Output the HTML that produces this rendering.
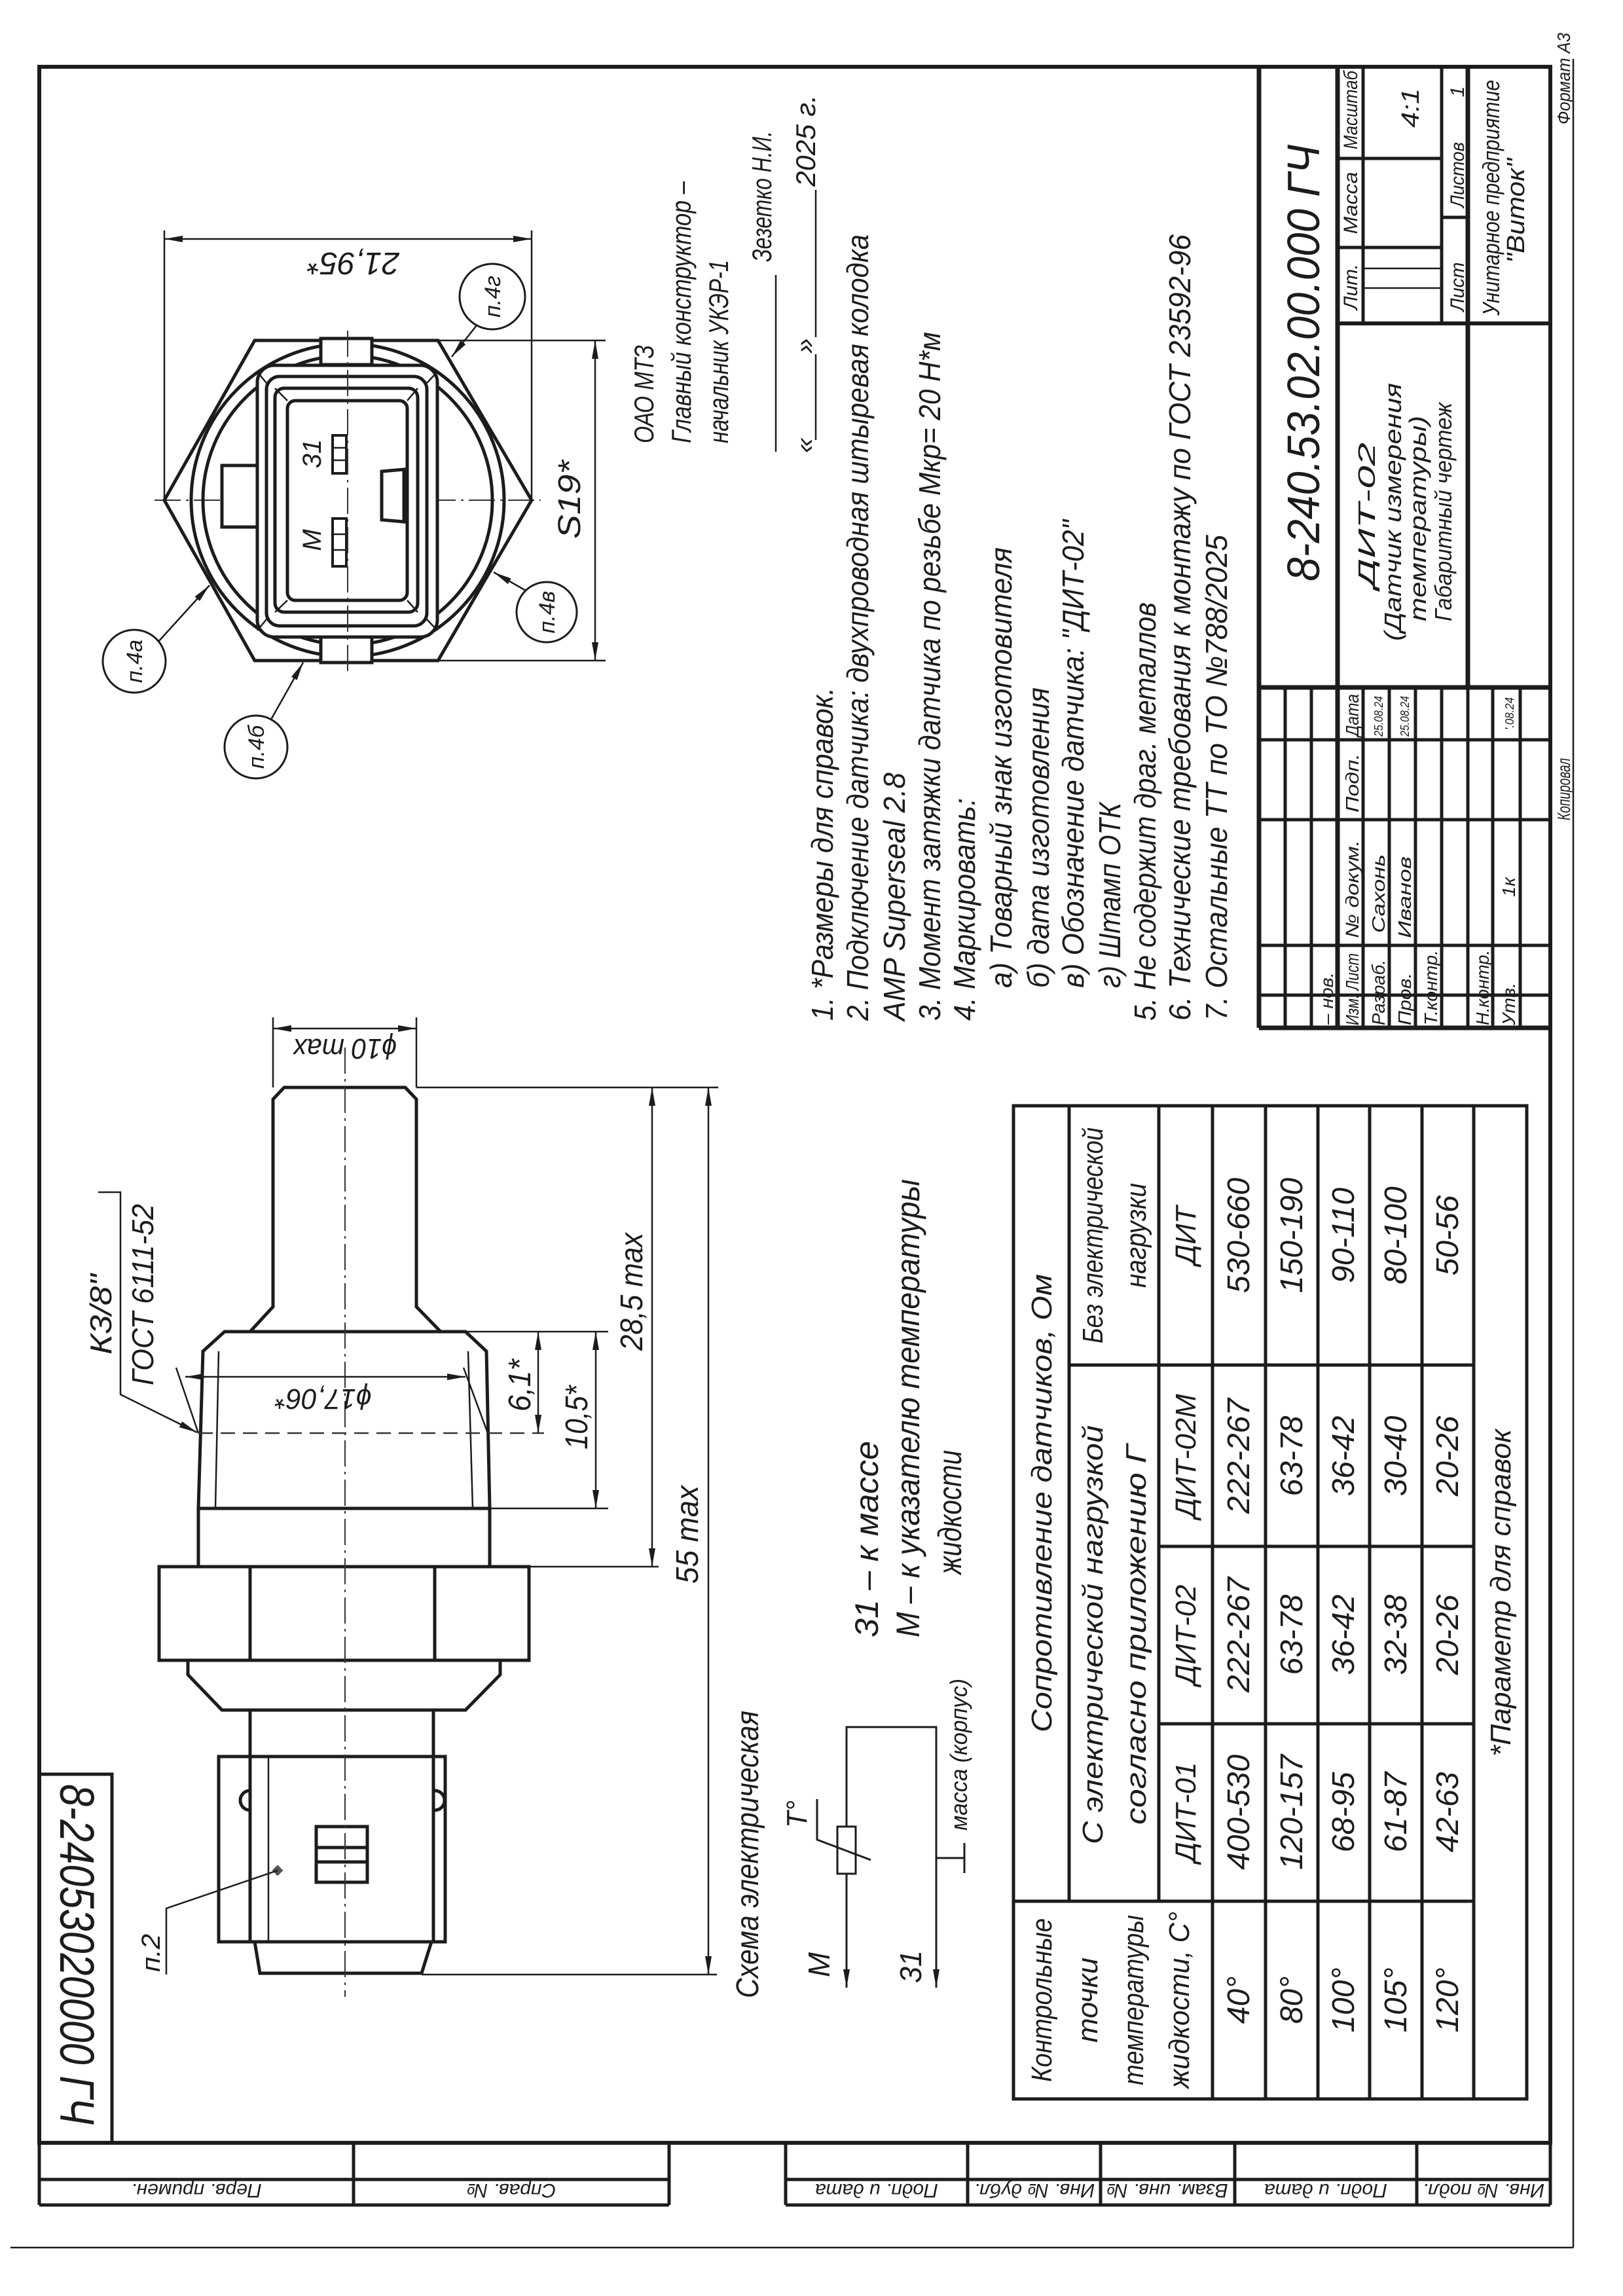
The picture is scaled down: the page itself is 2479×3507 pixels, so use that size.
<!DOCTYPE html>
<html><head><meta charset="utf-8"><style>
html,body{margin:0;padding:0;background:#fff}
svg{display:block}
text{font-family:"Liberation Sans","DejaVu Sans",sans-serif;font-style:italic;fill:#1c1c1c}
.k{stroke:#1c1c1c;fill:none;stroke-width:5}
.n{stroke:#1c1c1c;fill:none;stroke-width:2.5}
.w{stroke:#1c1c1c;fill:#fff;stroke-width:5}
.c{stroke:#333;fill:none;stroke-width:2;stroke-dasharray:40 8 4 8}
.d{stroke:#333;fill:none;stroke-width:2.5;stroke-dasharray:22 12}
</style></head><body>
<svg xmlns="http://www.w3.org/2000/svg" width="2479" height="3507" viewBox="0 0 2479 3507">
<defs>
<marker id="a" viewBox="0 0 28 10" refX="28" refY="5" markerWidth="28" markerHeight="10" markerUnits="userSpaceOnUse" orient="auto-start-reverse"><path d="M0,0 L28,5 L0,10 z" fill="#1c1c1c"/></marker>
</defs>
<rect width="2479" height="3507" fill="#fff"/>

<line class="n" x1="16" y1="3433" x2="2403" y2="3433"/>
<line class="n" x1="2403" y1="90" x2="2403" y2="3433"/>

<rect class="k" x="60" y="102" width="2308" height="3171" style="stroke-width:6"/>
<polyline class="k" points="60,2710 171,2710 171,3273"/>
<text transform="translate(92,2725) rotate(90)" font-size="74" textLength="520" lengthAdjust="spacingAndGlyphs">8-24053020000 ГЧ</text>

<g class="k">
<line x1="60" y1="3273" x2="60" y2="3368"/><line x1="540" y1="3273" x2="540" y2="3368"/><line x1="1022" y1="3273" x2="1022" y2="3368"/>
<line x1="60" y1="3329" x2="1022" y2="3329"/><line x1="60" y1="3368" x2="1022" y2="3368"/>
<line x1="1200" y1="3273" x2="1200" y2="3368"/><line x1="1478" y1="3273" x2="1478" y2="3368"/><line x1="1681" y1="3273" x2="1681" y2="3368"/><line x1="1886" y1="3273" x2="1886" y2="3368"/><line x1="2164" y1="3273" x2="2164" y2="3368"/><line x1="2368" y1="3273" x2="2368" y2="3368"/>
<line x1="1200" y1="3329" x2="2368" y2="3329"/><line x1="1200" y1="3368" x2="2368" y2="3368"/>
</g>
<g font-size="30" text-anchor="middle">
<text transform="translate(300,3336) rotate(180)">Перв. примен.</text>
<text transform="translate(781,3336) rotate(180)">Справ. №</text>
<text transform="translate(1339,3336) rotate(180)">Подп. и дата</text>
<text transform="translate(1580,3336) rotate(180)">Инв. № дубл.</text>
<text transform="translate(1783,3336) rotate(180)">Взам. инв. №</text>
<text transform="translate(2025,3336) rotate(180)">Подп. и дата</text>
<text transform="translate(2266,3336) rotate(180)">Инв. № подл.</text>
</g>

<g class="k">
<line x1="1923" y1="102" x2="1923" y2="1570" style="stroke-width:7"/>
<line x1="2043" y1="102" x2="2043" y2="1050" style="stroke-width:7"/>
<line x1="2242" y1="102" x2="2242" y2="1050" style="stroke-width:7"/>
<line x1="1923" y1="1050" x2="2368" y2="1050" style="stroke-width:7"/>
<line x1="2043" y1="494" x2="2368" y2="494" style="stroke-width:6"/>
<line x1="2082" y1="102" x2="2082" y2="494"/>
<line x1="2202" y1="102" x2="2202" y2="494"/>
<line x1="2043" y1="242" x2="2202" y2="242"/>
<line x1="2043" y1="378" x2="2202" y2="378"/>
<line x1="2202" y1="332" x2="2242" y2="332"/>
<line x1="2082" y1="410" x2="2202" y2="410" class="n"/>
<line x1="2082" y1="440" x2="2202" y2="440" class="n"/>
</g>
<g class="k">
<line x1="1963" y1="1050" x2="1963" y2="1570"/><line x1="2003" y1="1050" x2="2003" y2="1570"/><line x1="2043" y1="1050" x2="2043" y2="1570" style="stroke-width:7"/>
<line x1="2082" y1="1050" x2="2082" y2="1570"/><line x1="2122" y1="1050" x2="2122" y2="1570"/><line x1="2162" y1="1050" x2="2162" y2="1570"/><line x1="2202" y1="1050" x2="2202" y2="1570"/><line x1="2242" y1="1050" x2="2242" y2="1570"/><line x1="2280" y1="1050" x2="2280" y2="1570"/><line x1="2322" y1="1050" x2="2322" y2="1570"/>
<line x1="1923" y1="1130" x2="2368" y2="1130"/><line x1="1923" y1="1252" x2="2368" y2="1252"/><line x1="1923" y1="1444" x2="2368" y2="1444"/><line x1="1923" y1="1520" x2="2368" y2="1520"/>
<line x1="1923" y1="1570" x2="2368" y2="1570" style="stroke-width:7"/>
</g>
<text transform="translate(2015,888) rotate(-90)" font-size="70" textLength="667" lengthAdjust="spacingAndGlyphs">8-240.53.02.00.000 ГЧ</text>
<g text-anchor="middle">
<text transform="translate(2100,787) rotate(-90)" font-size="36" textLength="222" lengthAdjust="spacingAndGlyphs">ДИТ-02</text>
<text transform="translate(2140,782) rotate(-90)" font-size="36" textLength="394" lengthAdjust="spacingAndGlyphs">(Датчик измерения</text>
<text transform="translate(2178,792) rotate(-90)" font-size="36" textLength="314" lengthAdjust="spacingAndGlyphs">температуры)</text>
<text transform="translate(2217,782) rotate(-90)" font-size="36" textLength="334" lengthAdjust="spacingAndGlyphs">Габаритный чертеж</text>
<text transform="translate(2073,438) rotate(-90)" font-size="30" textLength="70" lengthAdjust="spacingAndGlyphs">Лит.</text>
<text transform="translate(2073,310) rotate(-90)" font-size="30" textLength="95" lengthAdjust="spacingAndGlyphs">Масса</text>
<text transform="translate(2073,168) rotate(-90)" font-size="30" textLength="120" lengthAdjust="spacingAndGlyphs">Масштаб</text>
<text transform="translate(2167,165) rotate(-90)" font-size="38" textLength="60" lengthAdjust="spacingAndGlyphs">4:1</text>
<text transform="translate(2236,438) rotate(-90)" font-size="30" textLength="75" lengthAdjust="spacingAndGlyphs">Лист</text>
<text transform="translate(2236,267) rotate(-90)" font-size="30" textLength="100" lengthAdjust="spacingAndGlyphs">Листов</text>
<text transform="translate(2236,140) rotate(-90)" font-size="30">1</text>
<text transform="translate(2290,302) rotate(-90)" font-size="36" textLength="360" lengthAdjust="spacingAndGlyphs">Унитарное предприятие</text>
<text transform="translate(2328,322) rotate(-90)" font-size="38" textLength="160" lengthAdjust="spacingAndGlyphs">"Виток"</text>
</g>
<g font-size="28">
<text transform="translate(2036,1565) rotate(-90)" textLength="80" lengthAdjust="spacingAndGlyphs">– нов.</text>
<text transform="translate(2075,1566) rotate(-90)" textLength="110" lengthAdjust="spacingAndGlyphs">Изм. Лист</text>
<text transform="translate(2075,1433) rotate(-90)" textLength="150" lengthAdjust="spacingAndGlyphs">№ докум.</text>
<text transform="translate(2075,1241) rotate(-90)" textLength="90" lengthAdjust="spacingAndGlyphs">Подп.</text>
<text transform="translate(2075,1125) rotate(-90)" textLength="65" lengthAdjust="spacingAndGlyphs">Дата</text>
<text transform="translate(2115,1566) rotate(-90)" textLength="100" lengthAdjust="spacingAndGlyphs">Разраб.</text>
<text transform="translate(2115,1425) rotate(-90)" textLength="120" lengthAdjust="spacingAndGlyphs">Сахонь</text>
<text transform="translate(2112,1125) rotate(-90)" font-size="18" textLength="62" lengthAdjust="spacingAndGlyphs">25.08.24</text>
<text transform="translate(2155,1566) rotate(-90)" textLength="80" lengthAdjust="spacingAndGlyphs">Пров.</text>
<text transform="translate(2155,1433) rotate(-90)" textLength="125" lengthAdjust="spacingAndGlyphs">Иванов</text>
<text transform="translate(2152,1125) rotate(-90)" font-size="18" textLength="62" lengthAdjust="spacingAndGlyphs">25.08.24</text>
<text transform="translate(2195,1566) rotate(-90)" textLength="115" lengthAdjust="spacingAndGlyphs">Т.контр.</text>
<text transform="translate(2274,1566) rotate(-90)" textLength="115" lengthAdjust="spacingAndGlyphs">Н.контр.</text>
<text transform="translate(2314,1566) rotate(-90)" textLength="65" lengthAdjust="spacingAndGlyphs">Утв.</text>
<text transform="translate(2314,1370) rotate(-90)" textLength="30" lengthAdjust="spacingAndGlyphs">1к</text>
<text transform="translate(2312,1115) rotate(-90)" font-size="18" textLength="50" lengthAdjust="spacingAndGlyphs">'.08.24</text>
<text transform="translate(2398,1253) rotate(-90)" textLength="95" lengthAdjust="spacingAndGlyphs">Копировал</text>
<text transform="translate(2398,190) rotate(-90)" textLength="140" lengthAdjust="spacingAndGlyphs">Формат  А3</text>
</g>

<g font-size="42">
<text transform="translate(998,677) rotate(-90)" textLength="150" lengthAdjust="spacingAndGlyphs">ОАО МТЗ</text>
<text transform="translate(1055,677) rotate(-90)" textLength="400" lengthAdjust="spacingAndGlyphs">Главный конструктор –</text>
<text transform="translate(1112,677) rotate(-90)" textLength="280" lengthAdjust="spacingAndGlyphs">начальник УКЭР-1</text>
<text transform="translate(1178,400) rotate(-90)" textLength="200" lengthAdjust="spacingAndGlyphs">Зезетко Н.И.</text>
<text transform="translate(1243,692) rotate(-90)">«</text>
<text transform="translate(1243,540) rotate(-90)">»</text>
<text transform="translate(1245,285) rotate(-90)" textLength="140" lengthAdjust="spacingAndGlyphs">2025 г.</text>
</g>
<line class="n" x1="1185" y1="420" x2="1185" y2="690"/>
<line class="n" x1="1246" y1="541" x2="1246" y2="672"/>
<line class="n" x1="1246" y1="290" x2="1246" y2="515"/>

<g font-size="46">
<text transform="translate(1272,1559) rotate(-90)" textLength="509" lengthAdjust="spacingAndGlyphs">1. *Размеры для справок.</text>
<text transform="translate(1326,1559) rotate(-90)" textLength="1201" lengthAdjust="spacingAndGlyphs">2. Подключение датчика: двухпроводная штыревая колодка</text>
<text transform="translate(1382,1559) rotate(-90)" textLength="379" lengthAdjust="spacingAndGlyphs">AMP Superseal 2.8</text>
<text transform="translate(1436,1559) rotate(-90)" textLength="1052" lengthAdjust="spacingAndGlyphs">3. Момент затяжки датчика по резьбе Мкр= 20 Н*м</text>
<text transform="translate(1489,1559) rotate(-90)" textLength="340" lengthAdjust="spacingAndGlyphs">4. Маркировать:</text>
<text transform="translate(1545,1509) rotate(-90)" textLength="673" lengthAdjust="spacingAndGlyphs">а) Товарный знак изготовителя</text>
<text transform="translate(1602,1509) rotate(-90)" textLength="459" lengthAdjust="spacingAndGlyphs">б) дата изготовления</text>
<text transform="translate(1655,1509) rotate(-90)" textLength="715" lengthAdjust="spacingAndGlyphs">в) Обозначение датчика: "ДИТ-02"</text>
<text transform="translate(1711,1509) rotate(-90)" textLength="283" lengthAdjust="spacingAndGlyphs">г) Штамп ОТК</text>
<text transform="translate(1765,1559) rotate(-90)" textLength="639" lengthAdjust="spacingAndGlyphs">5. Не содержит драг. металлов</text>
<text transform="translate(1818,1559) rotate(-90)" textLength="1201" lengthAdjust="spacingAndGlyphs">6. Технические требования к монтажу по ГОСТ 23592-96</text>
<text transform="translate(1874,1559) rotate(-90)" textLength="742" lengthAdjust="spacingAndGlyphs">7. Остальные ТТ по ТО №788/2025</text>
</g>

<line class="c" x1="531" y1="505" x2="531" y2="1030"/>
<line class="c" x1="236" y1="764" x2="826" y2="764"/>
<polygon class="k" points="251,764 389,520 669,520 812,764 669,1009 389,1009"/>
<circle class="k" cx="531" cy="764" r="239"/>
<circle class="k" cx="531" cy="764" r="221"/>
<rect class="w" x="490" y="517" width="78" height="40"/>
<rect class="w" x="490" y="973" width="78" height="39"/>
<rect class="w" x="339" y="711" width="60" height="94"/>
<rect class="w" x="393" y="558" width="275" height="415" rx="26"/>
<rect class="k" x="407" y="575" width="245" height="381" rx="20"/>
<rect class="k" x="420" y="593" width="218" height="342" rx="14"/>
<rect class="k" x="439" y="612" width="183" height="305" rx="12"/>
<g class="n"><line x1="420" y1="593" x2="439" y2="612"/><line x1="638" y1="593" x2="622" y2="612"/><line x1="420" y1="935" x2="439" y2="917"/><line x1="638" y1="935" x2="622" y2="917"/>
<line x1="393" y1="568" x2="407" y2="585"/><line x1="668" y1="568" x2="652" y2="585"/><line x1="393" y1="963" x2="407" y2="946"/><line x1="668" y1="963" x2="652" y2="946"/></g>
<polygon class="k" points="583,720 617,717 617,797 583,794"/>
<rect class="k" x="508" y="665" width="21" height="58" style="stroke-width:4"/>
<line class="n" x1="508" y1="684" x2="529" y2="684"/><line class="n" x1="508" y1="703" x2="529" y2="703"/>
<rect class="k" x="508" y="792" width="21" height="73" style="stroke-width:4"/>
<line class="n" x1="508" y1="816" x2="529" y2="816"/><line class="n" x1="508" y1="840" x2="529" y2="840"/>
<line class="c" x1="531" y1="505" x2="531" y2="1030"/>
<text transform="translate(490,693) rotate(-90)" font-size="40" text-anchor="middle">31</text>
<text transform="translate(490,825) rotate(-90)" font-size="40" text-anchor="middle">М</text>
<line class="n" x1="251" y1="352" x2="251" y2="764"/><line class="n" x1="812" y1="352" x2="812" y2="764"/>
<line class="n" x1="251" y1="365" x2="812" y2="365" marker-start="url(#a)" marker-end="url(#a)"/>
<text transform="translate(540,386) rotate(180)" font-size="48" text-anchor="middle" textLength="140" lengthAdjust="spacingAndGlyphs">21,95*</text>
<line class="n" x1="669" y1="520" x2="925" y2="520"/><line class="n" x1="669" y1="1009" x2="925" y2="1009"/>
<line class="n" x1="909" y1="520" x2="909" y2="1009" marker-start="url(#a)" marker-end="url(#a)"/>
<text transform="translate(886,763) rotate(-90)" font-size="48" text-anchor="middle" textLength="120" lengthAdjust="spacingAndGlyphs">S19*</text>
<g font-size="34" text-anchor="middle">
<circle class="n" cx="752" cy="453" r="50" style="stroke-width:3"/><text transform="translate(764,453) rotate(-90)">п.4г</text>
<line class="n" x1="728" y1="497" x2="690" y2="545" marker-end="url(#a)"/>
<circle class="n" cx="835" cy="935" r="46" style="stroke-width:3"/><text transform="translate(847,935) rotate(-90)">п.4в</text>
<line class="n" x1="803" y1="902" x2="754" y2="874" marker-end="url(#a)"/>
<circle class="n" cx="205" cy="1010" r="48" style="stroke-width:3"/><text transform="translate(217,1010) rotate(-90)">п.4а</text>
<line class="n" x1="242" y1="980" x2="320" y2="894" marker-end="url(#a)"/>
<circle class="n" cx="391" cy="1141" r="48" style="stroke-width:3"/><text transform="translate(403,1141) rotate(-90)">п.4б</text>
<line class="n" x1="414" y1="1099" x2="463" y2="1012" marker-end="url(#a)"/>
</g>

<polygon class="k" points="434,1661 619,1661 636,1679 636,1996 673,2034 382,2034 417,1996 417,1679"/>
<polygon class="k" points="343,2034 711,2034 743,2064 748,2304 303,2304 310,2064"/>
<line class="n" x1="334" y1="2064" x2="329" y2="2304"/><line class="n" x1="715" y1="2064" x2="722" y2="2304"/>
<rect class="k" x="303" y="2304" width="445" height="89"/>
<rect class="k" x="243" y="2393" width="565" height="143"/>
<line class="k" x1="382" y1="2393" x2="382" y2="2536"/><line class="k" x1="664" y1="2393" x2="664" y2="2536"/>
<polygon class="k" points="287,2536 764,2536 764,2558 711,2612 339,2612 287,2558"/>
<rect class="k" x="382" y="2612" width="280" height="354"/>
<rect class="k" x="334" y="2683" width="346" height="283"/>
<line class="n" x1="410" y1="2683" x2="410" y2="2966"/>
<line class="k" x1="382" y1="2683" x2="382" y2="2966"/><line class="k" x1="662" y1="2683" x2="662" y2="2966"/>
<path class="k" d="M382,2735 a14,14 0 0 0 0,30"/><path class="k" d="M664,2735 a14,14 0 0 1 0,30"/>
<polygon class="k" points="389,2966 659,2966 644,3014 397,3014"/>
<rect class="k" x="483" y="2790" width="78" height="85"/>
<line class="k" x1="483" y1="2822" x2="561" y2="2822"/><line class="k" x1="483" y1="2844" x2="561" y2="2844"/>
<line class="c" x1="527" y1="1600" x2="527" y2="3050"/>
<rect x="418" y="2851" width="12" height="12" fill="#555" transform="rotate(45 424 2857)"/>
<polyline class="n" points="424,2857 254,2915 254,3016"/>
<text transform="translate(244,3012) rotate(-90)" font-size="40" textLength="58" lengthAdjust="spacingAndGlyphs">п.2</text>
<line class="n" x1="269" y1="2089" x2="303" y2="2189"/><line class="n" x1="708" y1="2089" x2="745" y2="2189"/>
<line class="d" x1="303" y1="2189" x2="831" y2="2189"/>
<polyline class="n" points="150,1821 184,1821 184,2130 301,2188" marker-end="url(#a)"/>
<text transform="translate(234,2116) rotate(-90)" font-size="46" textLength="277" lengthAdjust="spacingAndGlyphs">ГОСТ 6111-52</text>
<text transform="translate(170,2069) rotate(-90)" font-size="46" textLength="123" lengthAdjust="spacingAndGlyphs">К3/8"</text>
<line class="n" x1="417" y1="1554" x2="417" y2="1661"/><line class="n" x1="636" y1="1554" x2="636" y2="1661"/>
<line class="n" x1="417" y1="1571" x2="636" y2="1571" marker-start="url(#a)" marker-end="url(#a)"/>
<text transform="translate(527,1587) rotate(180)" font-size="44" text-anchor="middle" textLength="158" lengthAdjust="spacingAndGlyphs">ϕ10 max</text>
<line class="n" x1="283" y1="2103" x2="711" y2="2103" marker-start="url(#a)" marker-end="url(#a)"/>
<text transform="translate(494,2122) rotate(180)" font-size="44" text-anchor="middle" textLength="147" lengthAdjust="spacingAndGlyphs">ϕ17,06*</text>
<line class="n" x1="636" y1="1661" x2="1097" y2="1661"/>
<line class="n" x1="711" y1="2034" x2="929" y2="2034"/>
<line class="n" x1="748" y1="2304" x2="929" y2="2304"/>
<line class="n" x1="808" y1="2393" x2="1006" y2="2393"/>
<line class="n" x1="644" y1="3016" x2="1095" y2="3016"/>
<line class="n" x1="996" y1="1661" x2="996" y2="2393" marker-start="url(#a)" marker-end="url(#a)"/>
<line class="n" x1="1082" y1="1661" x2="1082" y2="3016" marker-start="url(#a)" marker-end="url(#a)"/>
<line class="n" x1="822" y1="2034" x2="822" y2="2189" marker-start="url(#a)" marker-end="url(#a)"/>
<line class="n" x1="910" y1="2034" x2="910" y2="2304" marker-start="url(#a)" marker-end="url(#a)"/>
<g font-size="48" text-anchor="middle">
<text transform="translate(981,1973) rotate(-90)" textLength="180" lengthAdjust="spacingAndGlyphs">28,5 max</text>
<text transform="translate(1066,2344) rotate(-90)" textLength="150" lengthAdjust="spacingAndGlyphs">55 max</text>
<text transform="translate(810,2116) rotate(-90)" textLength="80" lengthAdjust="spacingAndGlyphs">6,1*</text>
<text transform="translate(897,2165) rotate(-90)" textLength="98" lengthAdjust="spacingAndGlyphs">10,5*</text>
</g>

<g font-size="50">
<text transform="translate(1341,2501) rotate(-90)" textLength="300" lengthAdjust="spacingAndGlyphs">31 – к массе</text>
<text transform="translate(1404,2501) rotate(-90)" textLength="700" lengthAdjust="spacingAndGlyphs">М – к указателю температуры</text>
<text transform="translate(1468,2405) rotate(-90)" textLength="190" lengthAdjust="spacingAndGlyphs">жидкости</text>
</g>

<text transform="translate(1158,3052) rotate(-90)" font-size="48" textLength="439" lengthAdjust="spacingAndGlyphs">Схема электрическая</text>
<polyline class="n" points="1293,3036 1293,2638 1430,2638 1430,3036" style="stroke-width:3"/>
<line class="n" x1="1293" y1="2990" x2="1293" y2="3036" marker-end="url(#a)"/>
<line class="n" x1="1430" y1="2990" x2="1430" y2="3036" marker-end="url(#a)"/>
<rect x="1279" y="2790" width="28" height="72" fill="#fff" stroke="#1c1c1c" stroke-width="3"/>
<polyline class="n" points="1248,2748 1248,2810 1330,2841" style="stroke-width:3"/>
<line class="n" x1="1430" y1="2838" x2="1473" y2="2838" style="stroke-width:3"/>
<line class="n" x1="1473" y1="2815" x2="1473" y2="2861" style="stroke-width:3"/>
<text transform="translate(1232,2792) rotate(-90)" font-size="44" textLength="42" lengthAdjust="spacingAndGlyphs">T°</text>
<text transform="translate(1267,3020) rotate(-90)" font-size="46" textLength="38" lengthAdjust="spacingAndGlyphs">М</text>
<text transform="translate(1407,3029) rotate(-90)" font-size="46" textLength="50" lengthAdjust="spacingAndGlyphs">31</text>
<text transform="translate(1477,2796) rotate(-90)" font-size="36" textLength="232" lengthAdjust="spacingAndGlyphs">масса (корпус)</text>

<g class="k">
<rect x="1548" y="1689" width="784" height="1517"/>
<line x1="1633" y1="1689" x2="1633" y2="2904"/>
<line x1="1770" y1="1689" x2="1770" y2="2904"/>
<line x1="1852" y1="1689" x2="1852" y2="3206"/>
<line x1="1933" y1="1689" x2="1933" y2="3206"/>
<line x1="2013" y1="1689" x2="2013" y2="3206"/>
<line x1="2092" y1="1689" x2="2092" y2="3206"/>
<line x1="2172" y1="1689" x2="2172" y2="3206"/>
<line x1="2251" y1="1689" x2="2251" y2="3206"/>
<line x1="1633" y1="2085" x2="2251" y2="2085"/>
<line x1="1770" y1="2362" x2="2251" y2="2362"/>
<line x1="1770" y1="2633" x2="2251" y2="2633"/>
<line x1="1548" y1="2904" x2="2251" y2="2904"/>
</g>
<g font-size="44" text-anchor="middle">
<text transform="translate(1606,2296) rotate(-90)" textLength="700" lengthAdjust="spacingAndGlyphs">Сопротивление датчиков, Ом</text>
<text transform="translate(1684,1887) rotate(-90)" textLength="330" lengthAdjust="spacingAndGlyphs">Без электрической</text>
<text transform="translate(1750,1887) rotate(-90)" textLength="160" lengthAdjust="spacingAndGlyphs">нагрузки</text>
<text transform="translate(1684,2497) rotate(-90)" textLength="640" lengthAdjust="spacingAndGlyphs">С электрической нагрузкой</text>
<text transform="translate(1750,2497) rotate(-90)" textLength="580" lengthAdjust="spacingAndGlyphs">согласно приложению Г</text>
<text transform="translate(1606,3055) rotate(-90)" textLength="250" lengthAdjust="spacingAndGlyphs">Контрольные</text>
<text transform="translate(1676,3055) rotate(-90)" textLength="130" lengthAdjust="spacingAndGlyphs">точки</text>
<text transform="translate(1746,3055) rotate(-90)" textLength="260" lengthAdjust="spacingAndGlyphs">температуры</text>
<text transform="translate(1816,3055) rotate(-90)" textLength="270" lengthAdjust="spacingAndGlyphs">жидкости, С°</text>
<g>
<text transform="translate(1826,1887) rotate(-90)">ДИТ</text>
<text transform="translate(1826,2224) rotate(-90)">ДИТ-02М</text>
<text transform="translate(1826,2497) rotate(-90)">ДИТ-02</text>
<text transform="translate(1826,2768) rotate(-90)">ДИТ-01</text>
</g>
<g font-size="48">
<text transform="translate(1908,1887) rotate(-90)">530-660</text><text transform="translate(1908,2224) rotate(-90)">222-267</text><text transform="translate(1908,2497) rotate(-90)">222-267</text><text transform="translate(1908,2768) rotate(-90)">400-530</text><text transform="translate(1908,3055) rotate(-90)">40°</text>
<text transform="translate(1989,1887) rotate(-90)">150-190</text><text transform="translate(1989,2224) rotate(-90)">63-78</text><text transform="translate(1989,2497) rotate(-90)">63-78</text><text transform="translate(1989,2768) rotate(-90)">120-157</text><text transform="translate(1989,3055) rotate(-90)">80°</text>
<text transform="translate(2068,1887) rotate(-90)">90-110</text><text transform="translate(2068,2224) rotate(-90)">36-42</text><text transform="translate(2068,2497) rotate(-90)">36-42</text><text transform="translate(2068,2768) rotate(-90)">68-95</text><text transform="translate(2068,3055) rotate(-90)">100°</text>
<text transform="translate(2148,1887) rotate(-90)">80-100</text><text transform="translate(2148,2224) rotate(-90)">30-40</text><text transform="translate(2148,2497) rotate(-90)">32-38</text><text transform="translate(2148,2768) rotate(-90)">61-87</text><text transform="translate(2148,3055) rotate(-90)">105°</text>
<text transform="translate(2227,1887) rotate(-90)">50-56</text><text transform="translate(2227,2224) rotate(-90)">20-26</text><text transform="translate(2227,2497) rotate(-90)">20-26</text><text transform="translate(2227,2768) rotate(-90)">42-63</text><text transform="translate(2227,3055) rotate(-90)">120°</text>
</g>
<text transform="translate(2307,2433) rotate(-90)" textLength="500" lengthAdjust="spacingAndGlyphs">*Параметр для справок</text>
</g>
</svg>
</body></html>
